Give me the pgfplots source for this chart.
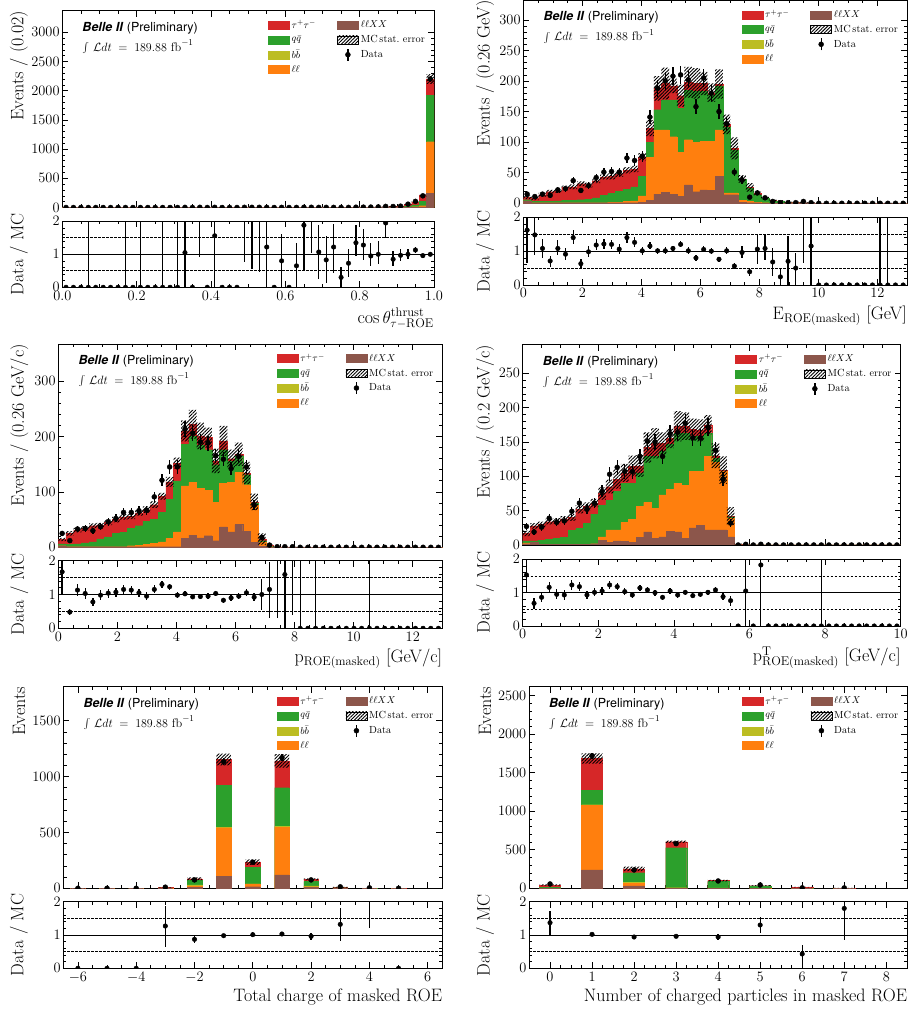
\documentclass[border=0pt]{standalone}
\usepackage{fontspec}
\usepackage{pgfplots}
\pgfplotsset{compat=1.18}
\usepackage{pgfplotstable}
\usetikzlibrary{patterns.meta}
\newfontfamily\helv{TeX Gyre Heros}
\definecolor{cTT}{HTML}{D62728}
\definecolor{cQQ}{HTML}{2CA02C}
\definecolor{cBB}{HTML}{BCBD22}
\definecolor{cLL}{HTML}{FF7F0E}
\definecolor{cLX}{HTML}{8C564B}
\tikzset{hatchp/.style={pattern={Lines[angle=45,distance=2.4pt,line width=0.9pt]}, pattern color=black}}

\pgfplotsset{
  base/.style={
    scale only axis, anchor=south west,
    axis line style={line width=0.8pt},
    tick style={black, line width=0.6pt},
    major tick length=6pt, minor tick length=3.2pt,
    tick label style={font=\fontsize{13.5}{13.5}\selectfont},
    yticklabel style={inner xsep=2.5pt},
    label style={font=\fontsize{18}{18}\selectfont},
    /pgf/number format/1000 sep={},
    scaled ticks=false,
    minor x tick num=3, minor y tick num=4,
    clip marker paths=true,
  },
  noxlab/.style={xticklabels={}},
  ovl/.style={scale only axis, anchor=south west, hide axis, clip marker paths=true},
  hb/.style={ybar, bar shift=0pt, bar width=#1, line width=0.2pt, forget plot},
  hatchax/.style={ovl, ybar stacked, bar width=#1},
  datp/.style={only marks, mark=*, mark size=2.5pt, black, forget plot,
     error bars/y dir=both, error bars/y explicit,
     error bars/error bar style={line width=1.3pt, black}, error bars/error mark=none},
  mainleg/.style={legend columns=2, legend cell align=left,
     legend style={draw=none, fill=none, inner sep=0pt, at={(1,1)}, anchor=north east,
       xshift=-7pt, yshift=-7.5pt, font=\fontsize{10.3}{12}\selectfont, row sep=1.6pt,
       /tikz/column 2/.style={column sep=19pt}}},
  legbox/.style={legend image code/.code={\fill[#1] (0pt,-4pt) rectangle (21pt,4pt);}},
  legdata/.style={legend image code/.code={\draw[black,line width=1.3pt] (10.5pt,-6pt)--(10.5pt,6pt); \fill[black] (10.5pt,0pt) circle (2.5pt);}},
  ratline/.style={black, line width=0.8pt, forget plot},
  ratdash/.style={black, line width=0.7pt, dash pattern=on 2.5pt off 1.5pt, forget plot},
  g1/.style={at={(62.3pt,802.5pt)}, width=371.7pt, height=196.8pt, xmin=0, xmax=1, ymin=0, ymax=3370},
  g1r/.style={at={(62.3pt,722.7pt)}, width=371.7pt, height=66pt, xmin=0, xmax=1, ymin=0, ymax=2},
  g2/.style={at={(523.3pt,806.7pt)}, width=383.7pt, height=203pt, xmin=0, xmax=13, ymin=0, ymax=332},
  g2r/.style={at={(523.3pt,725pt)}, width=383.7pt, height=67.7pt, xmin=0, xmax=13, ymin=0, ymax=2},
  g3/.style={at={(58.3pt,462.7pt)}, width=384pt, height=203.3pt, xmin=0, xmax=13, ymin=0, ymax=366.8},
  g3r/.style={at={(58.3pt,381.7pt)}, width=384pt, height=67.6pt, xmin=0, xmax=13, ymin=0, ymax=2},
  g4/.style={at={(522.7pt,465pt)}, width=378pt, height=200.3pt, xmin=0, xmax=10, ymin=0, ymax=291.6},
  g4r/.style={at={(522.7pt,384pt)}, width=378pt, height=66.7pt, xmin=0, xmax=10, ymin=0, ymax=2},
  g5/.style={at={(63.3pt,121.7pt)}, width=379pt, height=201.6pt, xmin=-6.5, xmax=6.5, ymin=0, ymax=1804},
  g5r/.style={at={(63.3pt,41.7pt)}, width=379pt, height=66.6pt, xmin=-6.5, xmax=6.5, ymin=0, ymax=2},
  g6/.style={at={(529pt,121.7pt)}, width=378.3pt, height=201.6pt, xmin=-0.5, xmax=8.5, ymin=0, ymax=2617},
  g6r/.style={at={(529pt,41.7pt)}, width=378.3pt, height=66.6pt, xmin=-0.5, xmax=8.5, ymin=0, ymax=2},
  xlab/.style={xlabel style={at={(axis description cs:1,0)}, anchor=north east, inner sep=0pt, yshift=-20.5pt}},
  ylabm/.style={ylabel style={at={(axis description cs:#1,1)}, anchor=east, inner sep=0pt}},
  ylabr/.style={ylabel style={at={(axis description cs:#1,0.5)}, anchor=center, inner sep=0pt}},
}

\newcommand{\mylegend}{%
 \addlegendimage{legbox=cTT}\addlegendentry{$\tau^{+}\tau^{-}$}
 \addlegendimage{legbox=cLX}\addlegendentry{$\ell\ell XX$}
 \addlegendimage{legbox=cQQ}\addlegendentry{$q\bar{q}$}
 \addlegendimage{legbox=hatchp}\addlegendentry{MC\,stat.\ error}
 \addlegendimage{legbox=cBB}\addlegendentry{$b\bar{b}$}
 \addlegendimage{legdata}\addlegendentry{Data}
 \addlegendimage{legbox=cLL}\addlegendentry{$\ell\ell$}
}
\newcommand{\belle}{%
 \node[anchor=west, inner sep=0pt, xshift=20pt, yshift=-17.5pt, font=\fontsize{12.5}{14}\selectfont\helv] at (axis description cs:0,1) {\textbf{\textit{Belle II}} (Preliminary)};
 \node[anchor=west, inner sep=0pt, xshift=20pt, yshift=-36pt, font=\fontsize{12.3}{14}\selectfont] at (axis description cs:0,1) {$\int\,\mathcal{L}dt\;=\;189.88\ \mathrm{fb}^{-1}$};
}

% ---------------- Panel 1 data ----------------
\pgfplotstableread{
x B O G T e d de
0.01 0 0 1 2 1 0 0
0.03 0 0 1 2 1 0 0
0.05 0 0 1 2 1 0 0
0.07 0 0 1 2 1 0 0
0.09 0 0 1 2 1 0 0
0.11 0 0 1 2 1 0 0
0.13 0 0 1 2 1 0 0
0.15 0 0 1 2 1 0 0
0.17 0 0 1 2 1 0 0
0.19 0 0 1 2 1 0 0
0.21 0 0 1 2 1 0 0
0.23 0 0 1 2 1 0 0
0.25 0 0 1 2 1 0 0
0.27 0 0 1 2 1 0 0
0.29 0 0 1 2 1 0 0
0.31 0 0 1 2 1 0 0
0.33 0 0 1 2 1 2 1.4
0.35 0 0 1 2 1 0 0
0.37 0 0 1 2 1 3 1.7
0.39 0 0 1 2 1 0 0
0.41 0 0 1 2 1 3 1.7
0.43 0 0 1 2 1 0 0
0.45 0 0 1 2 1 0 0
0.47 0 0 1 2 1 0 0
0.49 0 0 1 2 1 3 1.7
0.51 0 0 1 2 1 3 1.7
0.53 0 0 1 2 1 3 1.7
0.55 0 0 1 2 1 2 1.4
0.57 0 0 1 2 1 0 0
0.59 0 0 1 2 1 2 1.4
0.61 0 0 1 2 1 0 0
0.63 0 0 1 2 1 1 1
0.65 0 0 1 2 1 4 2
0.67 0 0 1 2 1 4 2
0.69 0 0 1 2 1 2 1.4
0.71 0 0 1 2 1 2 1.4
0.73 0 0 1 2 1 2 1.4
0.75 0 0 1 3 1 1 1
0.77 0 0 1 3 1 2 1.4
0.79 0 1 2 4 1 5 2.2
0.81 0 1 2 5 1 6 2.4
0.83 0 1 3 7 2 7 2.6
0.85 0 1 4 10 2 10 3.2
0.87 1 2 5 10 3 19 4.4
0.89 1 3 10 20 4 17 4.1
0.91 2 5 12 24 5 23 4.8
0.93 3 8 25 57 7 57 7.5
0.95 5 15 45 93 10 105 10.2
0.97 10 30 108 208 18 200 14.1
0.99 240 1126 1926 2200 85 2200 46.9
}\tA
\pgfplotstableread{
x r em ep
0.01 0 0 0
0.03 0 0 0
0.05 0 0 0
0.07 0 0 3
0.09 0 0 0
0.11 0 0 0
0.13 0 0 0
0.15 0 0 0
0.17 0 0 3
0.19 0 0 0
0.21 0 0 3
0.23 0 0 0
0.25 0 0 0
0.27 0 0 3
0.29 0 0 0
0.31 0 0 3
0.33 1.05 1.05 2
0.35 0 0 0
0.37 2.5 1.57 1
0.39 0 0 0
0.41 1.56 1.56 1
0.43 0 0 0
0.45 0 0 0
0.47 0 0 0
0.49 2.5 1.72 1
0.51 2.5 1.95 1
0.53 2.5 2.05 1
0.55 1.22 1.22 1
0.57 0 0 0
0.59 0.8 0.8 0.8
0.61 0 0 0
0.63 0.65 0.65 0.7
0.65 1.88 1.35 1
0.67 2.5 1.47 1
0.69 1.07 0.82 0.83
0.71 0.83 0.71 0.72
0.73 1.22 0.8 0.7
0.75 0.3 0.3 0.32
0.77 0.73 0.43 0.42
0.79 1.35 0.4 0.55
0.81 1.28 0.45 0.5
0.83 0.95 0.3 0.4
0.85 1.0 0.3 0.4
0.87 1.95 0.47 0.5
0.89 0.85 0.2 0.25
0.91 0.97 0.17 0.18
0.93 1.0 0.15 0.15
0.95 1.13 0.1 0.1
0.97 0.96 0.06 0.06
0.99 1.0 0.03 0.03
}\rA

% ---------------- Panel 2 data ----------------
\pgfplotstableread{
x B O G T e d de
0.13 4 4 6 10 3 15 3.9
0.39 1 1 3 8 3 11 3.3
0.65 1 1 3 14 3 15 3.9
0.91 1 1 3 19 3 13 3.6
1.17 1 1 4 20 3 22 4.7
1.43 1 1 5 26 3 24 4.9
1.69 1 1 5 27 4 37 6.1
1.95 1 1 6 32 4 21 4.6
2.21 1 1 7 30 4 29 5.4
2.47 1 1 9 37 4 42 6.5
2.73 1 1 13 43 4 51 7.1
2.99 1 2 16 44 5 52 7.2
3.25 1 2 20 48 5 51 7.1
3.51 1 3 23 54 5 74 8.6
3.77 1 4 27 56 5 70 8.4
4.03 2 12 44 76 6 77 8.8
4.29 5 75 100 123 13 141 11.9
4.55 15 120 153 188 20 188 13.7
4.81 18 120 169 196 26 200 14.1
5.07 15 109 169 192 12 208 14.4
5.33 11 83 155 176 18 210 14.5
5.59 30 104 185 198 25 202 14.2
5.85 19 100 183 196 25 158 12.6
6.11 22 101 183 196 19 205 14.3
6.37 21 101 177 181 15 180 13.4
6.63 44 120 192 195 24 150 12.2
6.89 14 17 125 129 16 130 11.4
7.15 14 17 87 90 18 51 7.1
7.41 2 5 39 40 6 38 6.2
7.67 1 3 25 26 7 10 3.2
7.93 1 2 14 16 3 17 4.1
8.19 0 1 8 8.5 2 9 3
8.45 0 0 4 4.5 1.5 3 1.7
8.71 0 0 3 4 1 1 1
8.97 0 0 1 1.4 1 1 1
9.23 0 0 1 2 1 1 1
9.49 0 0 0.5 1 1 3 1.7
9.75 0 0 0.5 0.9 0.8 1 1
10.01 0 0 0 0.2 0.3 0 0
10.27 0 0 0 0.2 0.3 0 0
10.53 0 0 0 0.2 0.3 0 0
10.79 0 0 0 0.2 0.3 0 0
11.05 0 0 0 0.2 0.3 0 0
11.31 0 0 0 0.2 0.3 0 0
11.57 0 0 0 0.2 0.3 0 0
11.83 0 0 0 0.2 0.3 0 0
12.09 0 0 0 0.2 0.3 0 0
12.35 0 0 0 0.2 0.3 0 0
12.61 0 0 0 0.2 0.3 0 0
12.87 0 0 0 0.2 0.3 0 0
}\tB
\pgfplotstableread{
x r em ep
0.13 1.62 0.97 1.5
0.39 1.48 0.6 1.5
0.65 1.08 0.28 0.29
0.91 0.71 0.18 0.16
1.17 1.08 0.2 0.25
1.43 0.91 0.17 0.18
1.69 1.40 0.18 0.23
1.95 0.63 0.13 0.13
2.21 0.98 0.14 0.18
2.47 1.18 0.15 0.17
2.73 1.21 0.14 0.15
2.99 1.20 0.14 0.14
3.25 1.06 0.14 0.14
3.51 1.40 0.16 0.18
3.77 1.26 0.15 0.16
4.03 1.01 0.11 0.12
4.29 1.15 0.1 0.12
4.55 1.01 0.08 0.08
4.81 1.01 0.08 0.1
5.07 1.08 0.08 0.08
5.33 1.20 0.08 0.09
5.59 1.01 0.08 0.1
5.85 0.80 0.08 0.08
6.11 1.05 0.09 0.09
6.37 1.0 0.09 0.09
6.63 0.76 0.08 0.08
6.89 1.01 0.1 0.1
7.15 0.56 0.1 0.1
7.41 0.96 0.17 0.18
7.67 0.39 0.12 0.12
7.93 1.06 0.43 0.42
8.19 1.08 0.33 0.4
8.45 0.68 0.4 0.4
8.71 0.24 0.24 0.27
8.97 0.70 0.7 0.75
9.23 0.50 0.5 0.45
9.49 2.6 1.95 1
9.75 1.15 1.15 1.5
10.01 0 0 0
10.27 0 0 0
10.53 0 0 0
10.79 0 0 0
11.05 0 0 0
11.31 0 0 0
11.57 0 0 0
11.83 0 0 0
12.09 0 0 3
12.35 0 0 3
12.61 0 0 0
12.87 0 0 0
}\rB

% ---------------- Panel 3 data ----------------
\pgfplotstableread{
x B O G T e d de
0.13 3 3 6 14 3 25 5
0.39 1 1 5 25 4 12 3.5
0.65 1 1 6 31 4 33 5.7
0.91 1 1 8 34 4 34 5.8
1.17 1 1 10 39 4 30 5.5
1.43 1 1 15 40 4 37 6.1
1.69 1 1 19 45 5 46 6.8
1.95 1 1 25 50 5 52 7.2
2.21 1 1 27 55 5 63 7.9
2.47 1 3 34 56 5 63 7.9
2.73 1 4 39 62 5 66 8.1
2.99 1 5 47 68 6 67 8.2
3.25 1 7 51 77 6 91 9.5
3.51 1 10 63 92 6 121 11
3.77 1 16 87 118 9 145 12
4.03 1 28 120 152 10 145 12
4.29 16 111 186 210 19 213 14.6
4.55 22 117 200 222 26 206 14.4
4.81 17 106 185 201 24 190 13.8
5.07 21 103 176 198 18 188 13.7
5.33 12 81 149 156 22 165 12.8
5.59 37 115 176 192 27 159 12.6
5.85 28 117 155 160 16 142 11.9
6.11 41 135 165 168 21 164 12.8
6.37 29 113 131 134 20 145 12
6.63 9 76 80 82 15 76 8.7
6.89 2 10 12 15 10 18 4.2
7.15 0 1 2 3.5 2 4 2
7.41 0 0 0.3 0.5 0.5 1 1
7.67 0 0 0.3 0.6 0.5 1 1
7.93 0 0 0.3 0.4 0.4 1 1
8.19 0 0 0 0.3 0.3 0 0
8.45 0 0 0 0.3 0.3 0 0
8.71 0 0 0 0.2 0.2 0 0
8.97 0 0 0 0.2 0.2 0 0
9.23 0 0 0 0.2 0.2 0 0
9.49 0 0 0 0.2 0.2 0 0
9.75 0 0 0 0.2 0.2 0 0
10.01 0 0 0 0.2 0.2 0 0
10.27 0 0 0 0.2 0.2 0 0
10.53 0 0 0 0.2 0.2 0 0
10.79 0 0 0 0.2 0.2 0 0
11.05 0 0 0 0.2 0.2 0 0
11.31 0 0 0 0.2 0.2 0 0
11.57 0 0 0 0.2 0.2 0 0
11.83 0 0 0 0.2 0.2 0 0
12.09 0 0 0 0.2 0.2 0 0
12.35 0 0 0 0.2 0.2 0 0
12.61 0 0 0 0.2 0.2 0 0
12.87 0 0 0 0.2 0.2 0 0
}\tC
\pgfplotstableread{
x r em ep
0.13 1.67 0.67 1.5
0.39 0.48 0.1 0.1
0.65 1.13 0.17 0.18
0.91 1.03 0.16 0.17
1.17 0.78 0.12 0.13
1.43 0.98 0.13 0.14
1.69 1.04 0.14 0.13
1.95 1.07 0.13 0.13
2.21 1.15 0.14 0.13
2.47 1.13 0.13 0.13
2.73 1.05 0.12 0.12
2.99 0.95 0.1 0.12
3.25 1.15 0.1 0.12
3.51 1.30 0.1 0.1
3.77 1.23 0.09 0.09
4.03 0.98 0.08 0.08
4.29 1.02 0.07 0.07
4.55 0.93 0.07 0.07
4.81 0.94 0.08 0.08
5.07 0.95 0.07 0.08
5.33 1.03 0.08 0.08
5.59 0.83 0.08 0.08
5.85 0.90 0.09 0.09
6.11 0.95 0.09 0.09
6.37 1.05 0.1 0.1
6.63 0.92 0.12 0.12
6.89 1.0 0.45 0.45
7.15 1.15 0.85 0.8
7.41 2.6 2.3 1
7.67 1.59 1.59 1
7.93 2.6 2.2 1
8.19 0 0 3
8.45 0 0 0
8.71 0 0 3
8.97 0 0 0
9.23 0 0 0
9.49 0 0 0
9.75 0 0 0
10.01 0 0 0
10.27 0 0 0
10.53 0 0 3
10.79 0 0 0
11.05 0 0 0
11.31 0 0 0
11.57 0 0 0
11.83 0 0 0
12.09 0 0 0
12.35 0 0 0
12.61 0 0 0
12.87 0 0 0
}\rC

% ---------------- Panel 4 data ----------------
\pgfplotstableread{
x B O G T e d de
0.1 2 3 6 17 4 27 5.2
0.3 4 4 6 28 4 19 4.4
0.5 1 1 7 30 4 26 5.1
0.7 1 1 8 34 4 39 6.2
0.9 1 1 10 35 4 33 5.7
1.1 1 1 11 38 4 35 5.9
1.3 1 1 21 40 5 49 7.0
1.5 1 1 24 52 6 61 7.8
1.7 1 1 32 56 6 52 7.2
1.9 2 2 45 61 6 61 7.8
2.1 7 12 58 75 9 78 8.8
2.3 4 22 65 85 10 103 10.1
2.5 6 22 78 96 14 113 10.6
2.7 5 33 90 105 13 107 10.3
2.9 4 37 90 115 15 107 10.3
3.1 11 56 105 115 16 129 11.4
3.3 19 62 129 142 22 151 12.3
3.5 10 53 129 148 22 150 12.2
3.7 12 73 137 148 16 129 11.4
3.9 20 81 147 155 14 162 12.7
4.1 19 90 163 173 22 164 12.8
4.3 10 87 163 173 20 177 13.3
4.5 25 107 158 168 16 156 12.5
4.7 29 107 158 167 16 156 12.5
4.9 22 129 163 175 14 172 13.1
5.1 22 120 126 130 18 138 11.7
5.3 22 107 108 109 20 96 9.8
5.5 12 39 41 42 13 32 5.7
5.7 0 0 0.5 1 1 0 0
5.9 0 0 0.3 0.5 0.5 1 1
6.1 0 0 0 0.3 0.3 0 0
6.3 0 0 0 0.3 0.3 1 1
6.5 0 0 0 0.1 0.1 0 0
6.7 0 0 0 0.1 0.1 0 0
6.9 0 0 0 0.1 0.1 0 0
7.1 0 0 0 0.1 0.1 0 0
7.3 0 0 0 0.1 0.1 0 0
7.5 0 0 0 0.1 0.1 0 0
7.7 0 0 0 0.1 0.1 0 0
7.9 0 0 0 0.1 0.1 0 0
8.1 0 0 0 0.1 0.1 0 0
8.3 0 0 0 0.1 0.1 0 0
8.5 0 0 0 0.1 0.1 0 0
8.7 0 0 0 0.1 0.1 0 0
8.9 0 0 0 0.1 0.1 0 0
9.1 0 0 0 0.1 0.1 0 0
9.3 0 0 0 0.1 0.1 0 0
9.5 0 0 0 0.1 0.1 0 0
9.7 0 0 0 0.1 0.1 0 0
9.9 0 0 0 0.1 0.1 0 0
}\tD
\pgfplotstableread{
x r em ep
0.1 1.53 0.53 1.5
0.3 0.68 0.17 0.17
0.5 0.86 0.15 0.15
0.7 1.16 0.15 0.15
0.9 0.95 0.15 0.15
1.1 0.93 0.14 0.14
1.3 1.23 0.15 0.16
1.5 1.18 0.14 0.14
1.7 0.93 0.12 0.12
1.9 1.01 0.11 0.12
2.1 1.05 0.11 0.11
2.3 1.23 0.12 0.12
2.5 1.18 0.11 0.11
2.7 1.03 0.1 0.1
2.9 0.93 0.09 0.09
3.1 1.14 0.1 0.1
3.3 1.08 0.09 0.09
3.5 1.0 0.09 0.09
3.7 0.86 0.07 0.07
3.9 1.05 0.08 0.08
4.1 0.93 0.08 0.08
4.3 1.01 0.08 0.08
4.5 0.91 0.08 0.08
4.7 0.95 0.08 0.08
4.9 1.01 0.08 0.08
5.1 1.08 0.09 0.09
5.3 0.88 0.1 0.1
5.5 0.76 0.15 0.15
5.7 0 0 0
5.9 1.05 1.05 1.5
6.1 0 0 0
6.3 1.83 1.83 1
6.5 0 0 0
6.7 0 0 0
6.9 0 0 0
7.1 0 0 0
7.3 0 0 0
7.5 0 0 0
7.7 0 0 0
7.9 0 0 3
8.1 0 0 0
8.3 0 0 0
8.5 0 0 0
8.7 0 0 0
8.9 0 0 0
9.1 0 0 0
9.3 0 0 0
9.5 0 0 0
9.7 0 0 0
9.9 0 0 0
}\rD

% ---------------- Panel 5 data ----------------
\pgfplotstableread{
x B O Bb G T e d de
-6 0 0 0 0 0.5 0.3 0 0
-5 0 0 0 0 1 0.5 0 0
-4 0 0 0 0 1.5 0.7 0 0
-3 0 1 1 3 8 2 10 3.2
-2 9 21 30 69 86 12 75 8.7
-1 110 543 546 919 1152 52 1133 33.7
0 15 39 40 188 234 24 233 15.3
1 119 546 555 900 1140 60 1169 34.2
2 9 15 21 60 79 9 75 8.7
3 1 2 2 5 10 3 13 3.6
4 0 0 0 1 1.6 1 4 2
5 0 0 0 0 1 0.5 0 0
}\tE
\pgfplotstableread{
x r em ep
-6 0 0 0
-5 0 0 0
-4 0 0 0
-3 1.27 0.62 0.61
-2 0.87 0.1 0.1
-1 0.98 0.03 0.03
0 1.01 0.07 0.07
1 1.03 0.03 0.03
2 0.96 0.1 0.1
3 1.32 0.49 0.48
4 2.5 1.3 1
5 0 0 0
}\rE

% ---------------- Panel 6 data ----------------
\pgfplotstableread{
x B O Bb G T e d de
0 1 2 2 15 42 8 56 7.5
1 238 1081 1085 1276 1685 65 1721 41.5
2 30 65 74 203 252 30 238 15.4
3 3 6 8 528 605 15 580 24.1
4 1 3 4 87 100 10 95 9.7
5 0 1 1 30 35 5 43 6.6
6 0 0 0 3 14 3 6 2.4
7 0 0 0 0 3 1 5 2.2
}\tF
\pgfplotstableread{
x r em ep
0 1.37 0.37 0.36
1 1.02 0.03 0.03
2 0.94 0.07 0.07
3 0.96 0.04 0.04
4 0.94 0.08 0.08
5 1.3 0.23 0.23
6 0.43 0.25 0.27
7 1.8 0.95 1
}\rF

\begin{document}
\begin{tikzpicture}
\path[use as bounding box] (0pt,0pt) rectangle (909pt,1010pt);

% ===================== Panel 1 =====================
\begin{axis}[base, g1, mainleg, noxlab, xtick={0,0.2,0.4,0.6,0.8,1}, ytick={0,500,...,3000},
  ylabel={Events / (0.02)}, ylabm=-0.1165]
\mylegend
\addplot[hb=0.02, fill=cTT, draw=cTT] table[x=x,y=T]{\tA};
\addplot[hb=0.02, fill=cQQ, draw=cQQ] table[x=x,y=G]{\tA};
\addplot[hb=0.02, fill=cLL, draw=cLL] table[x=x,y=O]{\tA};
\addplot[hb=0.02, fill=cLX, draw=cLX] table[x=x,y=B]{\tA};
\belle
\end{axis}
\begin{axis}[g1, hatchax=0.02]
\addplot[draw=none, fill=none] table[x=x, y expr=\thisrow{T}-\thisrow{e}]{\tA};
\addplot[draw=none, hatchp] table[x=x, y expr=2*\thisrow{e}]{\tA};
\end{axis}
\begin{axis}[g1, ovl]
\addplot[datp] table[x=x, y=d, y error=de]{\tA};
\end{axis}
\begin{axis}[base, g1r, xtick={0,0.2,0.4,0.6,0.8,1}, ytick={0,1,2},
  xticklabel style={/pgf/number format/.cd, fixed, fixed zerofill, precision=1},
  xlabel={$\cos\theta^{\mathrm{thrust}}_{\tau-\mathrm{ROE}}$}, xlab,
  ylabel={Data / MC}, ylabr=-0.1165]
\addplot[ratline] coordinates {(0,1) (1,1)};
\addplot[ratdash] coordinates {(0,0.5) (1,0.5)};
\addplot[ratdash] coordinates {(0,1.5) (1,1.5)};
\addplot[datp, mark size=2.3pt] table[x=x, y=r, y error plus=ep, y error minus=em]{\rA};
\end{axis}

% ===================== Panel 2 =====================
\begin{axis}[base, g2, mainleg, noxlab, xtick={0,2,...,12}, ytick={0,50,...,300},
  ylabel={Events / (0.26 GeV)}, ylabm=-0.0998]
\mylegend
\addplot[hb=0.26, fill=cTT, draw=cTT] table[x=x,y=T]{\tB};
\addplot[hb=0.26, fill=cQQ, draw=cQQ] table[x=x,y=G]{\tB};
\addplot[hb=0.26, fill=cLL, draw=cLL] table[x=x,y=O]{\tB};
\addplot[hb=0.26, fill=cLX, draw=cLX] table[x=x,y=B]{\tB};
\belle
\end{axis}
\begin{axis}[g2, hatchax=0.26]
\addplot[draw=none, fill=none] table[x=x, y expr=\thisrow{T}-\thisrow{e}]{\tB};
\addplot[draw=none, hatchp] table[x=x, y expr=2*\thisrow{e}]{\tB};
\end{axis}
\begin{axis}[g2, ovl]
\addplot[datp] table[x=x, y=d, y error=de]{\tB};
\end{axis}
\begin{axis}[base, g2r, xtick={0,2,...,12}, ytick={0,1,2},
  xlabel={$\mathrm{E}_{\mathrm{ROE(masked)}}$ [GeV]}, xlab,
  ylabel={Data / MC}, ylabr=-0.0998]
\addplot[ratline] coordinates {(0,1) (13,1)};
\addplot[ratdash] coordinates {(0,0.5) (13,0.5)};
\addplot[ratdash] coordinates {(0,1.5) (13,1.5)};
\addplot[datp, mark size=2.3pt] table[x=x, y=r, y error plus=ep, y error minus=em]{\rB};
\end{axis}

% ===================== Panel 3 =====================
\begin{axis}[base, g3, mainleg, noxlab, xtick={0,2,...,12}, ytick={0,100,200,300},
  ylabel={Events / (0.26 GeV/c)}, ylabm=-0.1016]
\mylegend
\addplot[hb=0.26, fill=cTT, draw=cTT] table[x=x,y=T]{\tC};
\addplot[hb=0.26, fill=cQQ, draw=cQQ] table[x=x,y=G]{\tC};
\addplot[hb=0.26, fill=cLL, draw=cLL] table[x=x,y=O]{\tC};
\addplot[hb=0.26, fill=cLX, draw=cLX] table[x=x,y=B]{\tC};
\belle
\end{axis}
\begin{axis}[g3, hatchax=0.26]
\addplot[draw=none, fill=none] table[x=x, y expr=\thisrow{T}-\thisrow{e}]{\tC};
\addplot[draw=none, hatchp] table[x=x, y expr=2*\thisrow{e}]{\tC};
\end{axis}
\begin{axis}[g3, ovl]
\addplot[datp] table[x=x, y=d, y error=de]{\tC};
\end{axis}
\begin{axis}[base, g3r, xtick={0,2,...,12}, ytick={0,1,2},
  xlabel={$\mathrm{p}_{\mathrm{ROE(masked)}}$ [GeV/c]}, xlab,
  ylabel={Data / MC}, ylabr=-0.1016]
\addplot[ratline] coordinates {(0,1) (13,1)};
\addplot[ratdash] coordinates {(0,0.5) (13,0.5)};
\addplot[ratdash] coordinates {(0,1.5) (13,1.5)};
\addplot[datp, mark size=2.3pt] table[x=x, y=r, y error plus=ep, y error minus=em]{\rC};
\end{axis}

% ===================== Panel 4 =====================
\begin{axis}[base, g4, mainleg, noxlab, xtick={0,2,...,10}, ytick={0,50,...,250},
  ylabel={Events / (0.2 GeV/c)}, ylabm=-0.0997]
\mylegend
\addplot[hb=0.2, fill=cTT, draw=cTT] table[x=x,y=T]{\tD};
\addplot[hb=0.2, fill=cQQ, draw=cQQ] table[x=x,y=G]{\tD};
\addplot[hb=0.2, fill=cLL, draw=cLL] table[x=x,y=O]{\tD};
\addplot[hb=0.2, fill=cLX, draw=cLX] table[x=x,y=B]{\tD};
\belle
\end{axis}
\begin{axis}[g4, hatchax=0.2]
\addplot[draw=none, fill=none] table[x=x, y expr=\thisrow{T}-\thisrow{e}]{\tD};
\addplot[draw=none, hatchp] table[x=x, y expr=2*\thisrow{e}]{\tD};
\end{axis}
\begin{axis}[g4, ovl]
\addplot[datp] table[x=x, y=d, y error=de]{\tD};
\end{axis}
\begin{axis}[base, g4r, xtick={0,2,...,10}, ytick={0,1,2},
  xlabel={$\mathrm{p}^{\mathrm{T}}_{\mathrm{ROE(masked)}}$ [GeV/c]}, xlab,
  ylabel={Data / MC}, ylabr=-0.0997]
\addplot[ratline] coordinates {(0,1) (10,1)};
\addplot[ratdash] coordinates {(0,0.5) (10,0.5)};
\addplot[ratdash] coordinates {(0,1.5) (10,1.5)};
\addplot[datp, mark size=2.3pt] table[x=x, y=r, y error plus=ep, y error minus=em]{\rD};
\end{axis}

% ===================== Panel 5 =====================
\begin{axis}[base, g5, mainleg, noxlab, xtick={-6,-4,...,6}, ytick={0,500,1000,1500},
  ylabel={Events}, ylabm=-0.1169]
\mylegend
\addplot[hb=0.5, fill=cTT, draw=cTT] table[x=x,y=T]{\tE};
\addplot[hb=0.5, fill=cQQ, draw=cQQ] table[x=x,y=G]{\tE};
\addplot[hb=0.5, fill=cBB, draw=cBB] table[x=x,y=Bb]{\tE};
\addplot[hb=0.5, fill=cLL, draw=cLL] table[x=x,y=O]{\tE};
\addplot[hb=0.5, fill=cLX, draw=cLX] table[x=x,y=B]{\tE};
\belle
\end{axis}
\begin{axis}[g5, hatchax=0.5]
\addplot[draw=none, fill=none] table[x=x, y expr=\thisrow{T}-\thisrow{e}]{\tE};
\addplot[draw=none, hatchp] table[x=x, y expr=2*\thisrow{e}]{\tE};
\end{axis}
\begin{axis}[g5, ovl]
\addplot[datp] table[x=x, y=d, y error=de]{\tE};
\end{axis}
\begin{axis}[base, g5r, xtick={-6,-4,...,6}, ytick={0,1,2},
  xlabel={Total charge of masked ROE}, xlab,
  ylabel={Data / MC}, ylabr=-0.1169]
\addplot[ratline] coordinates {(-6.5,1) (6.5,1)};
\addplot[ratdash] coordinates {(-6.5,0.5) (6.5,0.5)};
\addplot[ratdash] coordinates {(-6.5,1.5) (6.5,1.5)};
\addplot[datp, mark size=2.3pt] table[x=x, y=r, y error plus=ep, y error minus=em]{\rE};
\end{axis}

% ===================== Panel 6 =====================
\begin{axis}[base, g6, mainleg, noxlab, xtick={0,1,...,8}, ytick={0,500,...,2500},
  ylabel={Events}, ylabm=-0.1163]
\mylegend
\addplot[hb=0.5, fill=cTT, draw=cTT] table[x=x,y=T]{\tF};
\addplot[hb=0.5, fill=cQQ, draw=cQQ] table[x=x,y=G]{\tF};
\addplot[hb=0.5, fill=cBB, draw=cBB] table[x=x,y=Bb]{\tF};
\addplot[hb=0.5, fill=cLL, draw=cLL] table[x=x,y=O]{\tF};
\addplot[hb=0.5, fill=cLX, draw=cLX] table[x=x,y=B]{\tF};
\belle
\end{axis}
\begin{axis}[g6, hatchax=0.5]
\addplot[draw=none, fill=none] table[x=x, y expr=\thisrow{T}-\thisrow{e}]{\tF};
\addplot[draw=none, hatchp] table[x=x, y expr=2*\thisrow{e}]{\tF};
\end{axis}
\begin{axis}[g6, ovl]
\addplot[datp] table[x=x, y=d, y error=de]{\tF};
\end{axis}
\begin{axis}[base, g6r, xtick={0,1,...,8}, ytick={0,1,2},
  xlabel={Number of charged particles in masked ROE}, xlab,
  ylabel={Data / MC}, ylabr=-0.1163]
\addplot[ratline] coordinates {(-0.5,1) (8.5,1)};
\addplot[ratdash] coordinates {(-0.5,0.5) (8.5,0.5)};
\addplot[ratdash] coordinates {(-0.5,1.5) (8.5,1.5)};
\addplot[datp, mark size=2.3pt] table[x=x, y=r, y error plus=ep, y error minus=em]{\rF};
\end{axis}

\end{tikzpicture}
\end{document}
